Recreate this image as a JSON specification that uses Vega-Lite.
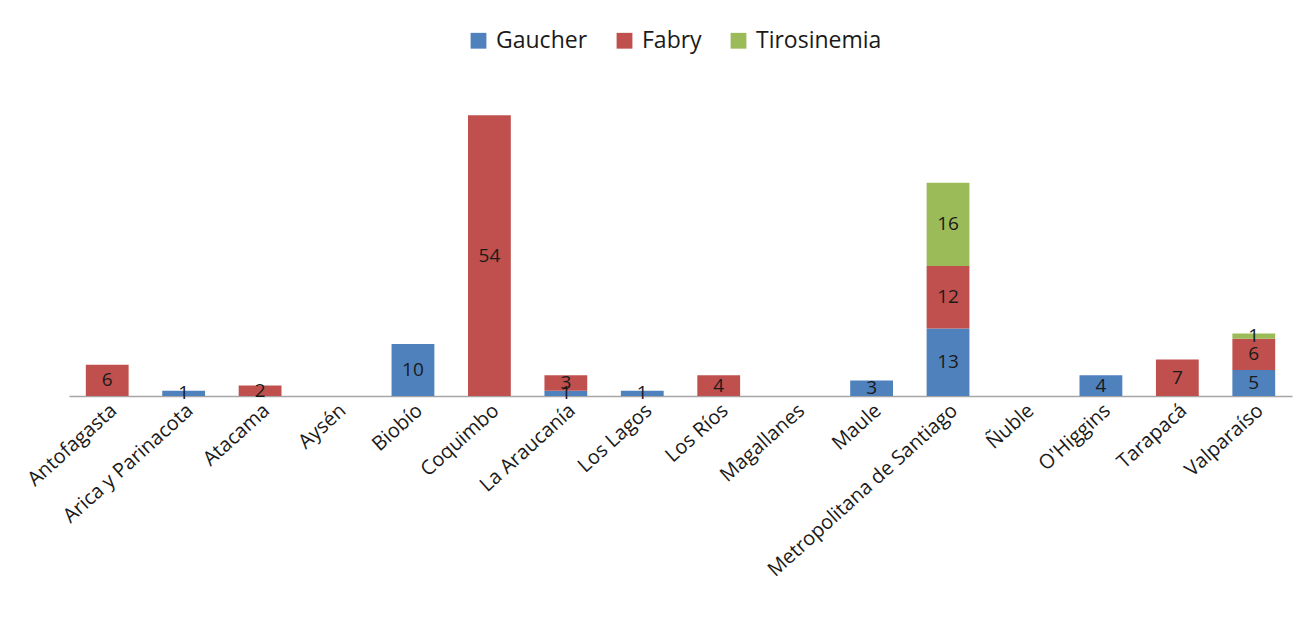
{
  "$schema": "https://vega.github.io/schema/vega-lite/v6.json",
  "width": 1223,
  "height": 312,
  "autosize": {"type": "none"},
  "padding": {"left": 69, "top": 84, "right": 8, "bottom": 237},
  "background": "white",
  "config": {"view": {"stroke": null}},
  "data": {
    "values": [
      {"region": "Antofagasta", "disease": "Fabry", "order": 2, "value": 6},
      {"region": "Arica y Parinacota", "disease": "Gaucher", "order": 1, "value": 1},
      {"region": "Atacama", "disease": "Fabry", "order": 2, "value": 2},
      {"region": "Biobío", "disease": "Gaucher", "order": 1, "value": 10},
      {"region": "Coquimbo", "disease": "Fabry", "order": 2, "value": 54},
      {"region": "La Araucanía", "disease": "Gaucher", "order": 1, "value": 1},
      {"region": "La Araucanía", "disease": "Fabry", "order": 2, "value": 3},
      {"region": "Los Lagos", "disease": "Gaucher", "order": 1, "value": 1},
      {"region": "Los Ríos", "disease": "Fabry", "order": 2, "value": 4},
      {"region": "Maule", "disease": "Gaucher", "order": 1, "value": 3},
      {"region": "Metropolitana de Santiago", "disease": "Gaucher", "order": 1, "value": 13},
      {"region": "Metropolitana de Santiago", "disease": "Fabry", "order": 2, "value": 12},
      {"region": "Metropolitana de Santiago", "disease": "Tirosinemia", "order": 3, "value": 16},
      {"region": "O'Higgins", "disease": "Gaucher", "order": 1, "value": 4},
      {"region": "Tarapacá", "disease": "Fabry", "order": 2, "value": 7},
      {"region": "Valparaíso", "disease": "Gaucher", "order": 1, "value": 5},
      {"region": "Valparaíso", "disease": "Fabry", "order": 2, "value": 6},
      {"region": "Valparaíso", "disease": "Tirosinemia", "order": 3, "value": 1}
    ]
  },
  "transform": [
    {"stack": "value", "groupby": ["region"], "sort": [{"field": "order", "order": "ascending"}], "as": ["v0", "v1"]},
    {"calculate": "(datum.v0 + datum.v1) / 2", "as": "mid"}
  ],
  "encoding": {
    "x": {
      "field": "region",
      "type": "nominal",
      "title": null,
      "scale": {
        "domain": ["Antofagasta", "Arica y Parinacota", "Atacama", "Aysén", "Biobío", "Coquimbo", "La Araucanía", "Los Lagos", "Los Ríos", "Magallanes", "Maule", "Metropolitana de Santiago", "Ñuble", "O'Higgins", "Tarapacá", "Valparaíso"],
        "paddingInner": 0.44,
        "paddingOuter": 0.22
      },
      "axis": {
        "labelAngle": -42,
        "labelFont": "Open Sans",
        "labelFontSize": 20,
        "labelColor": "#1a1a1a",
        "labelPadding": 4,
        "labelLimit": 0,
        "ticks": false,
        "domainColor": "#a6a6a6",
        "domainWidth": 1.5,
        "labelOverlap": false
      }
    }
  },
  "layer": [
    {
      "mark": {"type": "bar"},
      "encoding": {
        "y": {"field": "v0", "type": "quantitative", "scale": {"domain": [0, 60], "nice": false}, "axis": null},
        "y2": {"field": "v1"},
        "color": {
          "field": "disease",
          "type": "nominal",
          "scale": {"domain": ["Gaucher", "Fabry", "Tirosinemia"], "range": ["#4f81bd", "#c0504d", "#9bbb59"]},
          "legend": {
            "title": null,
            "orient": "none",
            "direction": "horizontal",
            "legendX": 398,
            "legendY": -55,
            "symbolType": "square",
            "symbolSize": 250,
            "symbolStrokeWidth": 0,
            "symbolOpacity": 1,
            "labelFont": "Open Sans",
            "labelFontSize": 23,
            "labelColor": "#1a1a1a",
            "labelOffset": 6,
            "columnPadding": 25
          }
        }
      }
    },
    {
      "mark": {"type": "text", "font": "Open Sans", "fontSize": 19, "color": "#1a1a1a", "baseline": "middle"},
      "encoding": {
        "y": {"field": "mid", "type": "quantitative"},
        "text": {"field": "value", "type": "quantitative"}
      }
    }
  ]
}
